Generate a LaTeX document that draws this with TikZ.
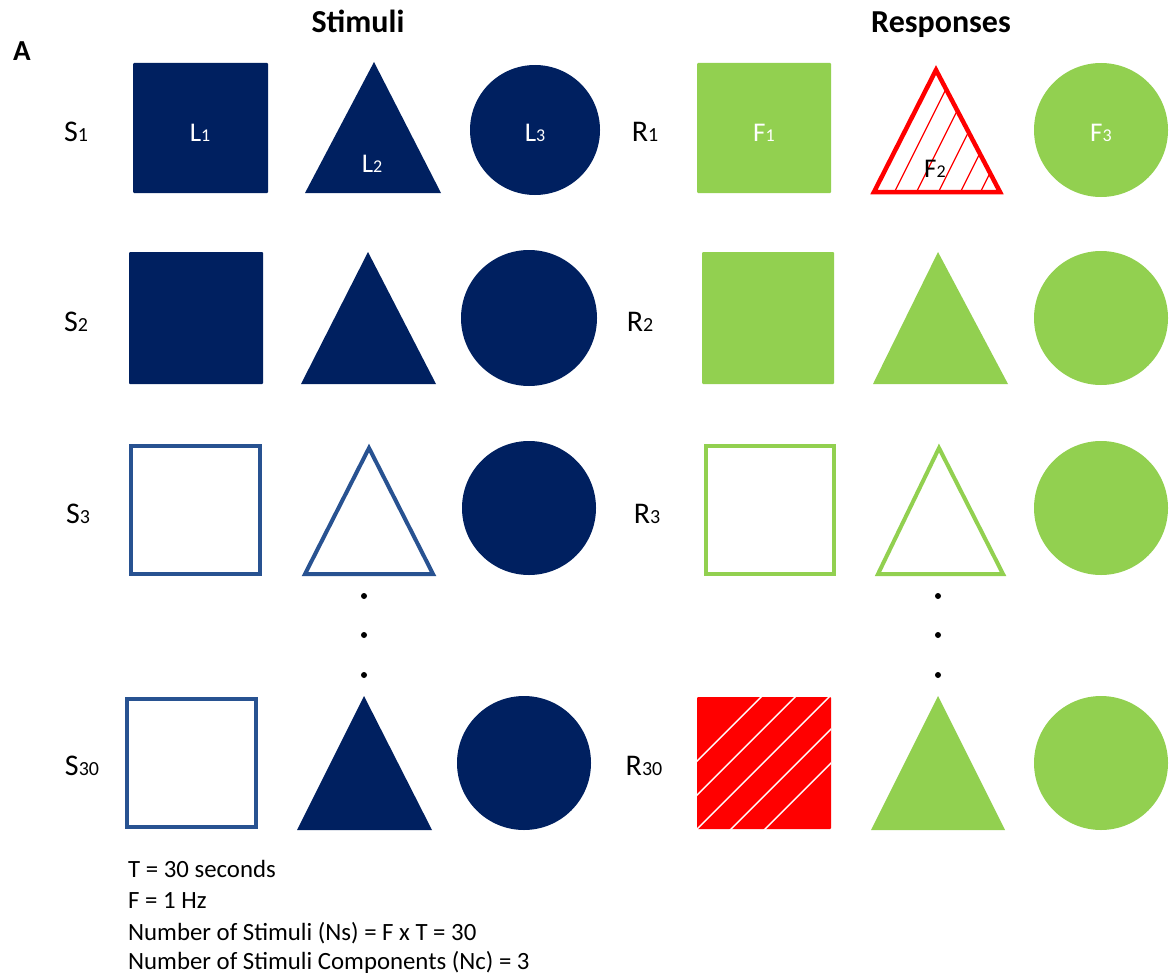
\documentclass[tikz,border=0pt]{standalone}
\usepackage{fontspec}
\setmainfont{Carlito}
\definecolor{navy}{RGB}{0,32,96}
\definecolor{outblue}{RGB}{40,82,145}
\definecolor{lgreen}{RGB}{146,208,80}
\definecolor{hred}{RGB}{255,0,0}
% small digits used as indices
\newcommand\rsub[1]{{\fontsize{20}{20}\selectfont #1}}
\newcommand\isub[1]{{\fontsize{18}{18}\selectfont #1}}
\begin{document}
\begin{tikzpicture}[x=1pt,y=-1pt,
  navyshape/.style={fill=navy},
  blueline/.style={draw=outblue,line width=4pt},
  greenshape/.style={fill=lgreen},
  greenline/.style={draw=lgreen,line width=4pt},
  redline/.style={draw=hred,line width=4.5pt},
  rowlabel/.style={anchor=base,inner sep=0pt,font=\fontsize{30}{36}\selectfont},
  inlabel/.style={anchor=base,inner sep=0pt,text=white,font=\fontsize{27}{32}\selectfont},
  heading/.style={anchor=base,inner sep=0pt,font=\bfseries\fontsize{32}{38}\selectfont},
  note/.style={anchor=base west,inner sep=0pt,font=\fontsize{24.8}{30}\selectfont},
  dotmark/.style={circle,fill=black,inner sep=0pt,minimum size=6pt}]
\useasboundingbox (0,0) rectangle (1175,974);

% headings
\node[heading,font=\bfseries\fontsize{29}{34}\selectfont] (panel) at (22,60) {A};
\node[heading] (stim) at (358,33) {Stimuli};
\node[heading] (resp) at (941,33) {Responses};

% ---------- stimuli ----------
% S1
\fill[navyshape,rounded corners=1pt] (133,63) rectangle (268,193);
\fill[navyshape] (374,62) -- (441,193) -- (305,193) -- cycle;
\fill[navyshape] (535,130) circle[radius=65pt];
% S2
\fill[navyshape,rounded corners=1pt] (129,252) rectangle (263,384);
\fill[navyshape] (368,252) -- (436,384) -- (301,384) -- cycle;
\fill[navyshape] (529,318) circle[radius=68pt];
% S3
\draw[blueline] (131,446) rectangle (260,574);
\draw[blueline] (369,448) -- (433,574) -- (305,574) -- cycle;
\fill[navyshape] (529,508) circle[radius=67pt];
% S30
\draw[blueline] (127,699) rectangle (256,827);
\fill[navyshape] (364,696) -- (432,830) -- (297,830) -- cycle;
\fill[navyshape] (524,763) circle[radius=67pt];

\node[rowlabel] (s1) at (76,141) {S\rsub{1}};
\node[rowlabel] (s2) at (76,331) {S\rsub{2}};
\node[rowlabel] (s3) at (78,523) {S\rsub{3}};
\node[rowlabel] (s30) at (82,775) {S\rsub{30}};

\node[inlabel] (l1) at (200,141) {L\isub{1}};
\node[inlabel] (l2) at (372,172) {L\isub{2}};
\node[inlabel] (l3) at (535,141) {L\isub{3}};

\node[dotmark] (ld1) at (364,596) {};
\node[dotmark] (ld2) at (364,635) {};
\node[dotmark] (ld3) at (364,675) {};

% ---------- responses ----------
% R1
\fill[greenshape,rounded corners=1pt] (697,63) rectangle (831,193);
\begin{scope}
  \clip (936,70) -- (1000,192) -- (874,192) -- cycle;
  \foreach \bx in {894,916,938,960,980}
    \draw[hred,line width=1.2pt] (\bx-10,213) -- (\bx+80,33);
\end{scope}
\draw[redline] (936,70) -- (1000,192) -- (874,192) -- cycle;
\fill[greenshape] (1101,130) circle[radius=67pt];
% R2
\fill[greenshape,rounded corners=1pt] (702,252) rectangle (834,384);
\fill[greenshape] (938,252) -- (1008,384) -- (873,384) -- cycle;
\fill[greenshape] (1101,318) circle[radius=67pt];
% R3
\draw[greenline] (706,446) rectangle (834,574);
\draw[greenline] (939,448) -- (1003,574) -- (878,574) -- cycle;
\fill[greenshape] (1101,508) circle[radius=67pt];
% R30
\fill[hred,rounded corners=1pt] (697,697) rectangle (831,829);
\begin{scope}
  \clip (697,697) rectangle (831,829);
  \foreach \c in {-68,-34,0,34,68}
    \draw[white,line width=1.4pt] (697-20,829-\c+20) -- (831+20,829-\c-134-20);
\end{scope}
\fill[greenshape] (938,696) -- (1005,830) -- (871,830) -- cycle;
\fill[greenshape] (1101,763) circle[radius=67pt];

\node[rowlabel] (r1) at (645,141) {R\rsub{1}};
\node[rowlabel] (r2) at (640,331) {R\rsub{2}};
\node[rowlabel] (r3) at (647,523) {R\rsub{3}};
\node[rowlabel] (r30) at (644,775) {R\rsub{30}};

\node[inlabel] (f1) at (764,141) {F\isub{1}};
\node[inlabel,text=black] (f2) at (935,177) {F\isub{2}};
\node[inlabel] (f3) at (1101,141) {F\isub{3}};

\node[dotmark] (rd1) at (938,596) {};
\node[dotmark] (rd2) at (938,635) {};
\node[dotmark] (rd3) at (938,675) {};

% ---------- parameters ----------
\node[note] (t1) at (128,877) {T = 30 seconds};
\node[note] (t2) at (128,908) {F = 1 Hz};
\node[note] (t3) at (128,940) {Number of Stimuli (Ns) = F x T = 30};
\node[note] (t4) at (128,969) {Number of Stimuli Components (Nc) = 3};
\end{tikzpicture}
\end{document}
